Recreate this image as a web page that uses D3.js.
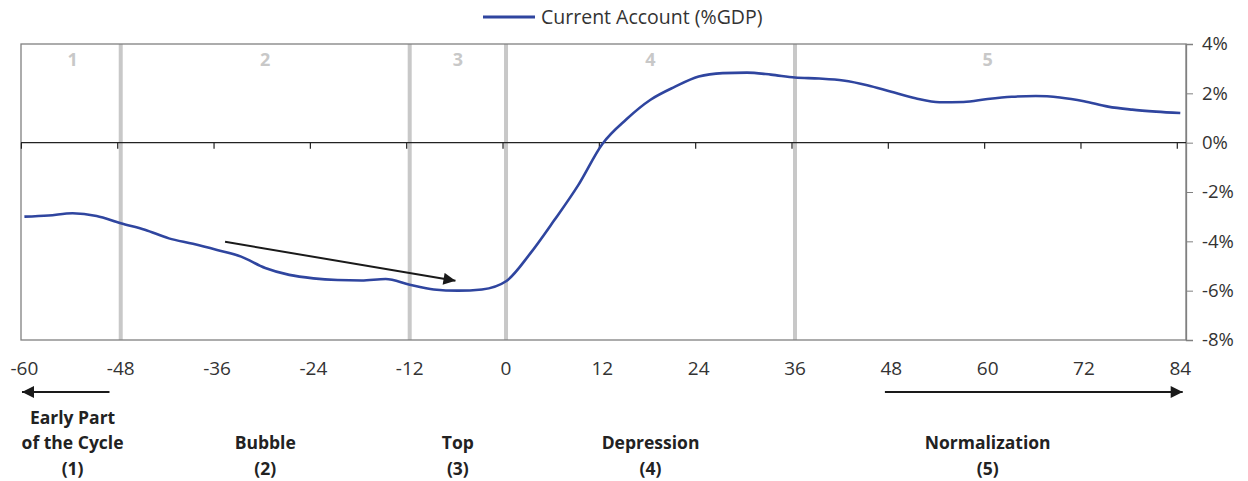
<!DOCTYPE html>
<html>
<head>
<meta charset="utf-8">
<script src="https://cdn.jsdelivr.net/npm/d3@7/dist/d3.min.js"></script>
<style>
  body { margin: 0; background: #fff; }
  svg { display: block; font-family: 'Open Sans', sans-serif; }
</style>
</head>
<body>
<div id="chart-area"></div>
<script>
// months relative to the top of the cycle
var months = [-60, -57, -54, -51, -48, -45, -42, -39, -36, -33, -30, -27, -24, -21, -18, -15,
  -12, -9, -6, -3, 0, 3, 6, 9, 12, 15, 18, 21, 24, 27, 30, 33, 36, 39, 42, 45, 48, 51, 54,
  57, 60, 63, 66, 69, 72, 75, 78, 81, 84];
// current account, % of GDP
var currentAccount = [-3.00, -2.95, -2.86, -2.97, -3.27, -3.53, -3.88, -4.10, -4.35, -4.62,
  -5.08, -5.36, -5.50, -5.57, -5.59, -5.53, -5.76, -5.95, -6.00, -5.95, -5.62, -4.50, -3.15,
  -1.72, -0.05, 0.95, 1.74, 2.26, 2.68, 2.82, 2.84, 2.76, 2.64, 2.60, 2.52, 2.33, 2.06, 1.80,
  1.64, 1.65, 1.77, 1.86, 1.89, 1.83, 1.68, 1.46, 1.34, 1.26, 1.20];

var xTicks = [-60, -48, -36, -24, -12, 0, 12, 24, 36, 48, 60, 72, 84];
var yTicks = [4, 2, 0, -2, -4, -6, -8];

// phase boundaries and their labels
var phaseBreaks = [-60, -48, -12, 0, 36, 84];
var phaseNumbers = ['1', '2', '3', '4', '5'];
var phaseNames = [
  ['Early Part', 'of the Cycle', '(1)'],
  ['Bubble', '(2)'],
  ['Top', '(3)'],
  ['Depression', '(4)'],
  ['Normalization', '(5)']
];

// annotation arrows (data units)
var trendArrow = { x0: -35, y0: -4.02, x1: -6.3, y1: -5.6 };
var phaseArrows = [{ from: -49.4, to: -60.3 }, { from: 47.2, to: 84.3 }];

var margin = { left: 21, right: 62, top: 44, bottom: 141 };
var width = 1248 - margin.left - margin.right;
var height = 481 - margin.top - margin.bottom;

var blue = '#2f459f';

var svg = d3.select('#chart-area')
  .append('svg')
  .attr('width', 1248)
  .attr('height', 481);

var defs = svg.append('defs');
defs.append('marker')
  .attr('id', 'head')
  .attr('viewBox', '0 0 10 10')
  .attr('refX', 10)
  .attr('refY', 5)
  .attr('markerUnits', 'userSpaceOnUse')
  .attr('markerWidth', 16)
  .attr('markerHeight', 12)
  .attr('orient', 'auto')
  .append('path')
    .attr('d', 'M0,0 L10,5 L0,10 Z')
    .attr('fill', '#1a1a1a');

var g = svg.append('g')
  .attr('transform', 'translate(' + margin.left + ', ' + margin.top + ')');

// X Scale
var x = d3.scaleLinear()
  .domain([-60, 84])
  .range([3.4, 1159.3]);

// Y Scale
var y = d3.scaleLinear()
  .domain([-8, 4])
  .range([height, 0]);

// phase separators
g.selectAll('.phase-line')
  .data(phaseBreaks.slice(1, -1))
  .enter().append('line')
    .attr('class', 'phase-line')
    .attr('x1', function(d) { return x(d); })
    .attr('x2', function(d) { return x(d); })
    .attr('y1', 0)
    .attr('y2', height)
    .attr('stroke', '#c8c8c8')
    .attr('stroke-width', 4);

// phase numbers
g.selectAll('.phase-num')
  .data(phaseNumbers)
  .enter().append('text')
    .attr('class', 'phase-num')
    .attr('x', function(d, i) { return x((phaseBreaks[i] + phaseBreaks[i + 1]) / 2); })
    .attr('y', 22)
    .attr('text-anchor', 'middle')
    .attr('font-size', '18px')
    .attr('font-weight', 'bold')
    .attr('fill', '#c8c8c8')
    .text(function(d) { return d; });

// frame
g.append('rect')
  .attr('x', 0)
  .attr('y', 0)
  .attr('width', width)
  .attr('height', height)
  .attr('fill', 'none')
  .attr('stroke', '#808080')
  .attr('stroke-width', 1.3);

// Y Axis (right)
var yAxisCall = d3.axisRight(y)
  .tickValues(yTicks)
  .tickSize(7)
  .tickPadding(9)
  .tickFormat(function(d) { return d + '%'; });
var yAxisGroup = g.append('g')
  .attr('class', 'y-axis')
  .attr('transform', 'translate(' + width + ', 0)')
  .call(yAxisCall);
yAxisGroup.select('.domain').attr('stroke', '#808080').attr('stroke-width', 1.3);
yAxisGroup.selectAll('.tick line').attr('stroke', '#808080');
yAxisGroup.selectAll('text')
  .attr('font-size', '18.5px')
  .attr('fill', '#333')
  .attr('font-family', "'Open Sans', sans-serif");

// X Axis at zero
g.append('line')
  .attr('x1', 0)
  .attr('x2', width)
  .attr('y1', y(0))
  .attr('y2', y(0))
  .attr('stroke', '#222')
  .attr('stroke-width', 1.3);

g.selectAll('.x-tick')
  .data(xTicks)
  .enter().append('line')
    .attr('class', 'x-tick')
    .attr('x1', function(d) { return x(d) - 3; })
    .attr('x2', function(d) { return x(d) - 3; })
    .attr('y1', y(0))
    .attr('y2', y(0) + 6)
    .attr('stroke', '#222')
    .attr('stroke-width', 1.2);

g.selectAll('.x-label')
  .data(xTicks)
  .enter().append('text')
    .attr('class', 'x-label')
    .attr('x', function(d) { return x(d); })
    .attr('y', height + 34.5)
    .attr('text-anchor', 'middle')
    .attr('font-size', '19px')
    .attr('fill', '#333')
    .text(function(d) { return d; });

// the line
var line = d3.line()
  .x(function(d, i) { return x(months[i]); })
  .y(function(d) { return y(d); })
  .curve(d3.curveMonotoneX);

g.append('path')
  .datum(currentAccount)
  .attr('fill', 'none')
  .attr('stroke', blue)
  .attr('stroke-width', 2.6)
  .attr('d', line);

// trend arrow
g.append('line')
  .attr('x1', x(trendArrow.x0))
  .attr('y1', y(trendArrow.y0))
  .attr('x2', x(trendArrow.x1))
  .attr('y2', y(trendArrow.y1))
  .attr('stroke', '#1a1a1a')
  .attr('stroke-width', 2)
  .attr('marker-end', 'url(#head)');

// phase arrows below axis
g.selectAll('.phase-arrow')
  .data(phaseArrows)
  .enter().append('line')
    .attr('class', 'phase-arrow')
    .attr('x1', function(d) { return x(d.from); })
    .attr('x2', function(d) { return x(d.to); })
    .attr('y1', height + 52)
    .attr('y2', height + 52)
    .attr('stroke', '#1a1a1a')
    .attr('stroke-width', 2)
    .attr('marker-end', 'url(#head)');

// phase names
var names = g.selectAll('.phase-name')
  .data(phaseNames)
  .enter().append('text')
    .attr('class', 'phase-name')
    .attr('text-anchor', 'middle')
    .attr('font-size', '17.5px')
    .attr('font-weight', 'bold')
    .attr('fill', '#222')
    .attr('transform', function(d, i) {
      var cx = x((phaseBreaks[i] + phaseBreaks[i + 1]) / 2);
      var top = height + 109 - (d.length - 2) * 25.5;
      return 'translate(' + cx + ', ' + top + ')';
    });

names.selectAll('tspan')
  .data(function(d) { return d; })
  .enter().append('tspan')
    .attr('x', 0)
    .attr('y', function(d, i) { return i * 25.5; })
    .text(function(d) { return d; });

// legend
var legend = svg.append('g')
  .attr('transform', 'translate(483, 17)');
legend.append('line')
  .attr('x1', 0)
  .attr('x2', 52)
  .attr('stroke', blue)
  .attr('stroke-width', 3);
legend.append('text')
  .attr('x', 58)
  .attr('y', 6.5)
  .attr('font-size', '19.5px')
  .attr('fill', '#333')
  .text('Current Account (%GDP)');
</script>
</body>
</html>
